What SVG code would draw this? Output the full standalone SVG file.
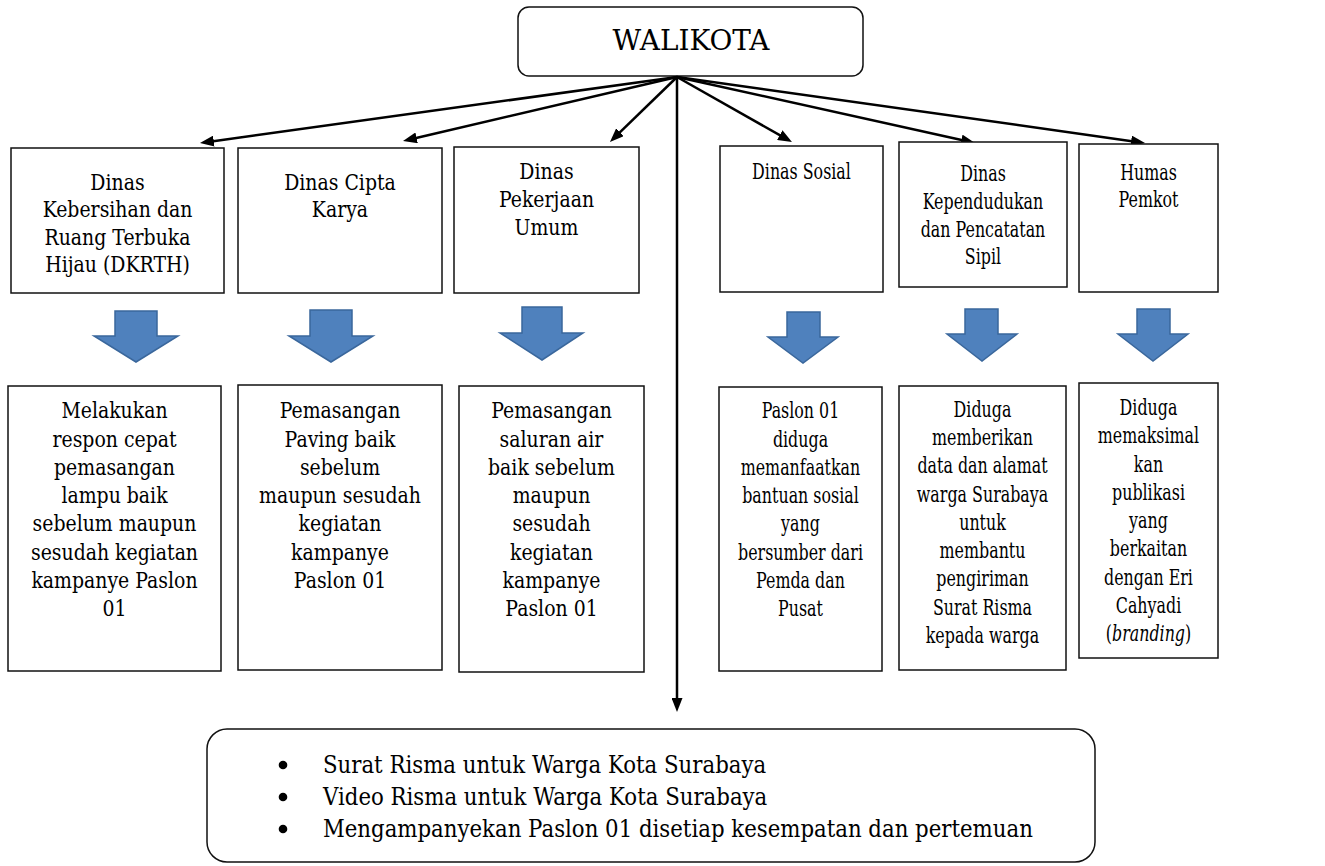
<svg xmlns="http://www.w3.org/2000/svg" width="1325" height="866" viewBox="0 0 1325 866">
<style>
.box{fill:#fff;stroke:#111;stroke-width:1.5}
.t{font-family:'DejaVu Serif',serif;font-size:22.2px;fill:#000;text-anchor:middle}
.big{font-family:'DejaVu Serif',serif;font-size:27px;fill:#000;text-anchor:middle}
.lst{font-family:'DejaVu Serif',serif;font-size:25px;fill:#000}
.blk{fill:#4F81BD;stroke:#3A679C;stroke-width:1.5}
.con{stroke:#000;stroke-width:2.5;fill:none;marker-end:url(#ah)}
</style>
<defs>
<marker id="ah" markerUnits="userSpaceOnUse" markerWidth="14" markerHeight="11" refX="6" refY="5.5" orient="auto">
<path d="M0,0 L14,5.5 L0,11 z" fill="#000"/>
</marker>
</defs>
<rect width="1325" height="866" fill="#fff"/>

<g id="walikota">
<rect class="box" x="518" y="7" width="345" height="69" rx="11"/>
<text class="big" x="691" y="50" textLength="157" lengthAdjust="spacingAndGlyphs">WALIKOTA</text>
</g>

<g id="connectors">
<line class="con" x1="677" y1="77" x2="207.9" y2="141.9"/>
<line class="con" x1="677" y1="77" x2="410.8" y2="139.2"/>
<line class="con" x1="677" y1="77" x2="615.7" y2="136.4"/>
<line class="con" x1="677" y1="77" x2="785" y2="138.1"/>
<line class="con" x1="677" y1="77" x2="967.2" y2="141.3"/>
<line class="con" x1="677" y1="77" x2="1137.1" y2="141.9"/>
<line class="con" x1="677" y1="77" x2="677" y2="704"/>
</g>

<g id="dkrth">
<rect class="box" x="11" y="148" width="213" height="145"/>
<g transform="translate(117.5,0) scale(0.85,1) translate(-117.5,0)">
<text class="t" x="117.5" y="190">Dinas</text>
<text class="t" x="117.5" y="217.5">Kebersihan dan</text>
<text class="t" x="117.5" y="245">Ruang Terbuka</text>
<text class="t" x="117.5" y="272.5">Hijau (DKRTH)</text>
</g>
</g>
<g id="ciptakarya">
<rect class="box" x="238" y="148" width="204" height="145"/>
<g transform="translate(340,0) scale(0.85,1) translate(-340,0)">
<text class="t" x="340" y="190">Dinas Cipta</text>
<text class="t" x="340" y="217.5">Karya</text>
</g>
</g>
<g id="pu">
<rect class="box" x="454" y="147" width="185" height="146"/>
<g transform="translate(546.5,0) scale(0.85,1) translate(-546.5,0)">
<text class="t" x="546.5" y="179">Dinas</text>
<text class="t" x="546.5" y="207">Pekerjaan</text>
<text class="t" x="546.5" y="235">Umum</text>
</g>
</g>
<g id="sosial">
<rect class="box" x="720" y="146" width="163" height="146"/>
<g transform="translate(801.5,0) scale(0.715,1) translate(-801.5,0)">
<text class="t" x="801.5" y="179">Dinas Sosial</text>
</g>
</g>
<g id="dispenduk">
<rect class="box" x="899" y="142" width="168" height="145"/>
<g transform="translate(983,0) scale(0.715,1) translate(-983,0)">
<text class="t" x="983" y="181">Dinas</text>
<text class="t" x="983" y="209">Kependudukan</text>
<text class="t" x="983" y="237">dan Pencatatan</text>
<text class="t" x="983" y="264">Sipil</text>
</g>
</g>
<g id="humas">
<rect class="box" x="1079" y="144" width="139" height="148"/>
<g transform="translate(1148.5,0) scale(0.715,1) translate(-1148.5,0)">
<text class="t" x="1148.5" y="180">Humas</text>
<text class="t" x="1148.5" y="207.5">Pemkot</text>
</g>
</g>

<g id="block-arrows">
<path class="blk" d="M115,311 H157 V336 H178 L136,362 L94,336 H115 Z"/>
<path class="blk" d="M310,310 H352 V336 H373 L331,362 L289,336 H310 Z"/>
<path class="blk" d="M522,307 H562 V333 H583 L542,360 L500,333 H522 Z"/>
<path class="blk" d="M787,312 H820 V337 H838 L803,363 L768,337 H787 Z"/>
<path class="blk" d="M965,309 H998 V334 H1017 L982,361 L947,334 H965 Z"/>
<path class="blk" d="M1137,309 H1170 V334 H1188 L1153,361 L1118,334 H1137 Z"/>
</g>

<g id="res-dkrth">
<rect class="box" x="8" y="386" width="213" height="285"/>
<g transform="translate(114.5,0) scale(0.85,1) translate(-114.5,0)">
<text class="t" x="114.5" y="418.3">Melakukan</text>
<text class="t" x="114.5" y="446.6">respon cepat</text>
<text class="t" x="114.5" y="474.9">pemasangan</text>
<text class="t" x="114.5" y="503.2">lampu baik</text>
<text class="t" x="114.5" y="531.5">sebelum maupun</text>
<text class="t" x="114.5" y="559.8">sesudah kegiatan</text>
<text class="t" x="114.5" y="588.1">kampanye Paslon</text>
<text class="t" x="114.5" y="616.4">01</text>
</g>
</g>
<g id="res-ciptakarya">
<rect class="box" x="238" y="385" width="204" height="285"/>
<g transform="translate(340,0) scale(0.85,1) translate(-340,0)">
<text class="t" x="340" y="418.3">Pemasangan</text>
<text class="t" x="340" y="446.6">Paving baik</text>
<text class="t" x="340" y="474.9">sebelum</text>
<text class="t" x="340" y="503.2">maupun sesudah</text>
<text class="t" x="340" y="531.5">kegiatan</text>
<text class="t" x="340" y="559.8">kampanye</text>
<text class="t" x="340" y="588.1">Paslon 01</text>
</g>
</g>
<g id="res-pu">
<rect class="box" x="459" y="386" width="185" height="286"/>
<g transform="translate(551.5,0) scale(0.85,1) translate(-551.5,0)">
<text class="t" x="551.5" y="418.3">Pemasangan</text>
<text class="t" x="551.5" y="446.6">saluran air</text>
<text class="t" x="551.5" y="474.9">baik sebelum</text>
<text class="t" x="551.5" y="503.2">maupun</text>
<text class="t" x="551.5" y="531.5">sesudah</text>
<text class="t" x="551.5" y="559.8">kegiatan</text>
<text class="t" x="551.5" y="588.1">kampanye</text>
<text class="t" x="551.5" y="616.4">Paslon 01</text>
</g>
</g>
<g id="res-sosial">
<rect class="box" x="719" y="387" width="163" height="284"/>
<g transform="translate(800.5,0) scale(0.715,1) translate(-800.5,0)">
<text class="t" x="800.5" y="418.3">Paslon 01</text>
<text class="t" x="800.5" y="446.6">diduga</text>
<text class="t" x="800.5" y="474.9">memanfaatkan</text>
<text class="t" x="800.5" y="503.2">bantuan sosial</text>
<text class="t" x="800.5" y="531.5">yang</text>
<text class="t" x="800.5" y="559.8">bersumber dari</text>
<text class="t" x="800.5" y="588.1">Pemda dan</text>
<text class="t" x="800.5" y="616.4">Pusat</text>
</g>
</g>
<g id="res-dispenduk">
<rect class="box" x="899" y="386" width="167" height="284"/>
<g transform="translate(982.5,0) scale(0.715,1) translate(-982.5,0)">
<text class="t" x="982.5" y="416.7">Diduga</text>
<text class="t" x="982.5" y="445">memberikan</text>
<text class="t" x="982.5" y="473.3">data dan alamat</text>
<text class="t" x="982.5" y="501.6">warga Surabaya</text>
<text class="t" x="982.5" y="529.9">untuk</text>
<text class="t" x="982.5" y="558.2">membantu</text>
<text class="t" x="982.5" y="586.5">pengiriman</text>
<text class="t" x="982.5" y="614.8">Surat Risma</text>
<text class="t" x="982.5" y="643.1">kepada warga</text>
</g>
</g>
<g id="res-humas">
<rect class="box" x="1079" y="383" width="139" height="275"/>
<g transform="translate(1148.5,0) scale(0.715,1) translate(-1148.5,0)">
<text class="t" x="1148.5" y="415">Diduga</text>
<text class="t" x="1148.5" y="443.3">memaksimal</text>
<text class="t" x="1148.5" y="471.6">kan</text>
<text class="t" x="1148.5" y="499.9">publikasi</text>
<text class="t" x="1148.5" y="528.2">yang</text>
<text class="t" x="1148.5" y="556.5">berkaitan</text>
<text class="t" x="1148.5" y="584.8">dengan Eri</text>
<text class="t" x="1148.5" y="613.1">Cahyadi</text>
<text class="t" x="1148.5" y="641.4">(<tspan font-style="italic">branding</tspan>)</text>
</g>
</g>

<g id="kampanye">
<rect class="box" x="207" y="729" width="888" height="133" rx="20"/>
<circle cx="283" cy="765" r="4.3" fill="#000"/>
<circle cx="283" cy="797" r="4.3" fill="#000"/>
<circle cx="283" cy="829" r="4.3" fill="#000"/>
<g transform="translate(323,0) scale(0.851,1) translate(-323,0)">
<text class="lst" x="323" y="773">Surat Risma untuk Warga Kota Surabaya</text>
<text class="lst" x="323" y="805">Video Risma untuk Warga Kota Surabaya</text>
<text class="lst" x="323" y="837">Mengampanyekan Paslon 01 disetiap kesempatan dan pertemuan</text>
</g>
</g>
</svg>
